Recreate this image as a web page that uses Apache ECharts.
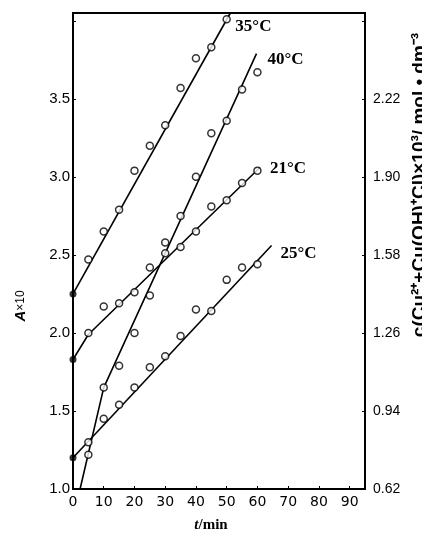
<!DOCTYPE html>
<html><head><meta charset="utf-8">
<script src="https://cdn.jsdelivr.net/npm/echarts/dist/echarts.min.js"></script>
<style>html,body{margin:0;padding:0;background:#fff}#c{width:422px;height:540px}</style>
</head><body><div id="c"></div>
<script>
// ---- data ----
const xTicks = [0,10,20,30,40,50,60,70,80,90];
const leftTickLabels = ['1.0','1.5','2.0','2.5','3.0','3.5'];
const rightTickLabels = ['0.62','0.94','1.26','1.58','1.90','2.22'];

const times35 = [5,10,15,20,25,30,35,40,45,50];
const vals35  = [2.47,2.65,2.79,3.04,3.20,3.33,3.57,3.76,3.83,4.01];
const times40 = [5,10,15,20,25,30,35,40,45,50,55,60];
const vals40  = [1.22,1.65,1.79,2.00,2.24,2.58,2.75,3.00,3.28,3.36,3.56,3.67];
const times21 = [5,10,15,20,25,30,35,40,45,50,55,60];
const vals21  = [2.00,2.17,2.19,2.26,2.42,2.51,2.55,2.65,2.81,2.85,2.96,3.04];
const times25 = [5,10,15,20,25,30,35,40,45,50,55,60];
const vals25  = [1.30,1.45,1.54,1.65,1.78,1.85,1.98,2.15,2.14,2.34,2.42,2.44];

// intercepts at t = 0 (filled dots)
const interceptT = [0,0,0];
const interceptA = [2.25,1.83,1.20];

// fitted lines (t, A)
const fit35T = [0,51.2];   const fit35A = [2.25,4.05];
const fit40T = [2.3,10,59.7]; const fit40A = [1.00,1.65,3.79];
const fit21T = [0,5,60.8]; const fit21A = [1.83,1.99,3.06];
const fit25T = [0,64.6];   const fit25A = [1.20,2.56];

const names = ['35°C','40°C','21°C','25°C'];

// ---- chart ----
const zip = (a,b) => a.map((v,i)=>[v,b[i]]);
const chart = echarts.init(document.getElementById('c'), null, {renderer:'canvas'});
const numFont = '"Liberation Sans Narrow","Liberation Sans",Arial,sans-serif';
const lblIdx = v => { const k=(v-1)/0.5; const r=Math.round(k); return Math.abs(k-r)<1e-6 ? r : -1; };

function pts(t,a){
  return {type:'scatter', data: zip(t,a), symbol:'circle', symbolSize:7,
    itemStyle:{color:'#fff', borderColor:'#000', borderWidth:1.5}, z:5, silent:true};
}
function fit(t,a,name,off){
  return {type:'line', name:name, data: zip(t,a), showSymbol:false, symbol:'none',
    lineStyle:{color:'#000', width:1.6}, z:3, silent:true,
    endLabel:{show:true, formatter:name, color:'#000', fontFamily:'"Liberation Serif","Times New Roman",serif',
      fontWeight:'bold', fontSize:17, offset:off}};
}

chart.setOption({
  animation:false,
  backgroundColor:'#fff',
  grid:{left:73, right:57, top:13, bottom:51, show:true, borderColor:'#000', borderWidth:2},
  xAxis:{type:'value', min:0, max:95, interval:10,
    axisLine:{show:true, lineStyle:{color:'#000', width:2}},
    axisTick:{show:true, inside:true, length:3, lineStyle:{color:'#000'}},
    splitLine:{show:false},
    axisLabel:{color:'#000', fontSize:14, fontFamily:'"DejaVu Sans",sans-serif', margin:6,
      formatter: v => xTicks.indexOf(v) >= 0 ? String(v) : ''}},
  yAxis:[
    {type:'value', min:1, max:4.05, interval:0.5, position:'left',
      axisLine:{show:true, lineStyle:{color:'#000', width:2}},
      axisTick:{show:true, inside:true, length:3, lineStyle:{color:'#000'}},
      splitLine:{show:false},
      axisLabel:{color:'#000', fontSize:15, fontFamily:numFont, margin:3,
        formatter: v => { const i=lblIdx(v); return (i>=0 && i<leftTickLabels.length) ? leftTickLabels[i] : ''; }}},
    {type:'value', min:1, max:4.05, interval:0.5, position:'right',
      axisLine:{show:true, lineStyle:{color:'#000', width:2}},
      axisTick:{show:true, inside:true, length:3, lineStyle:{color:'#000'}},
      splitLine:{show:false},
      axisLabel:{color:'#000', fontSize:14, fontFamily:numFont, margin:8,
        formatter: v => { const i=lblIdx(v); return (i>=0 && i<rightTickLabels.length) ? rightTickLabels[i] : ''; }}}
  ],
  series:[
    fit(fit35T, fit35A, names[0], [-3,14]),
    fit(fit40T, fit40A, names[1], [3,6]),
    fit(fit21T, fit21A, names[2], [2,1]),
    fit(fit25T, fit25A, names[3], [1,8]),
    pts(times35, vals35), pts(times40, vals40), pts(times21, vals21), pts(times25, vals25),
    {type:'scatter', data: zip(interceptT, interceptA), symbol:'circle', symbolSize:7,
      itemStyle:{color:'#000'}, z:6, silent:true}
  ],
  graphic:[
    {type:'text', x:21, y:306, rotation:Math.PI/2, style:{
      text:'{i|A}{n|×10}', align:'center', verticalAlign:'middle', fill:'#000',
      rich:{i:{fontFamily:'"Liberation Sans",sans-serif', fontStyle:'italic', fontWeight:'bold', fontSize:15, fill:'#000'},
            n:{fontFamily:'"Liberation Sans",sans-serif', fontSize:12, fill:'#000'}}}},
    {type:'text', x:211, y:525, style:{
      text:'{i|t}{n|/min}', align:'center', verticalAlign:'middle', fill:'#000',
      rich:{i:{fontFamily:'"Liberation Serif",serif', fontStyle:'italic', fontWeight:'bold', fontSize:15, fill:'#000'},
            n:{fontFamily:'"Liberation Serif",serif', fontWeight:'bold', fontSize:15, fill:'#000'}}}},
    {type:'text', x:420, y:185, rotation:Math.PI/2, style:{
      text:'c(Cu²⁺+Cu(OH)⁺Cl)×10³/ mol • dm⁻³', align:'center', verticalAlign:'middle', fill:'#000',
      fontFamily:'"Liberation Sans",sans-serif', fontWeight:'bold', fontSize:19}}
  ]
});
</script></body></html>
